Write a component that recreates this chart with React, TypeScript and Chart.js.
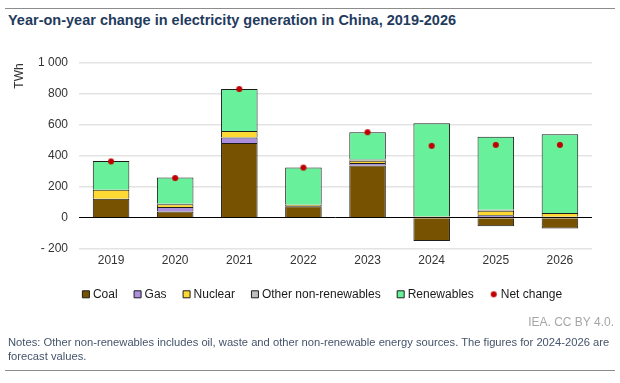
import React, { useEffect, useRef } from "react";
import { Chart, registerables } from "chart.js";

Chart.register(...registerables);

const categories = ["2019", "2020", "2021", "2022", "2023", "2024", "2025", "2026"];
const coal = [122, 40, 481, 73, 335, -150, -55, -70];
const gas = [0, 28, 35, 0, 17, 0, 15, 5];
const nuclear = [58, 18, 41, 10, 14, 8, 30, 25];
const otherNonRenewables = [0, 4, 0, 0, 8, 0, 5, 0];
const renewables = [185, 168, 271, 239, 176, 600, 470, 507];
const netChange = [362, 255, 828, 322, 550, 462, 468, 468];
const yTicks = [-200, 0, 200, 400, 600, 800, 1000];

const FONT = "'Liberation Sans', Arial, sans-serif";

const nz = (arr: number[]) => arr.map((v) => (v === 0 ? null : v));

function makeDot(): HTMLCanvasElement {
  const c = document.createElement("canvas");
  c.width = 8;
  c.height = 8;
  const g = c.getContext("2d")!;
  g.beginPath();
  g.arc(4, 4, 3, 0, Math.PI * 2);
  g.fillStyle = "#c00000";
  g.fill();
  return c;
}

export default function App() {
  const ref = useRef<HTMLCanvasElement | null>(null);

  useEffect(() => {
    if (!ref.current) return;
    const dot = makeDot();
    const barCommon = {
      type: "bar" as const,
      stack: "gen",
      borderColor: "#1c1c1c",
      borderWidth: 1,
      barPercentage: 0.57,
      categoryPercentage: 1,
      pointStyle: "rect",
      order: 1,
    };
    const twhPlugin = {
      id: "twh",
      afterDraw(chart: any) {
        const ctx = chart.ctx;
        ctx.save();
        ctx.translate(20, chart.chartArea.top + 1);
        ctx.rotate(-Math.PI / 2);
        ctx.font = `12px ${FONT}`;
        ctx.fillStyle = "#333333";
        ctx.textAlign = "right";
        ctx.textBaseline = "middle";
        ctx.fillText("TWh", 0, 0);
        ctx.restore();
      },
    };
    const chart = new Chart(ref.current, {
      type: "bar",
      data: {
        labels: categories,
        datasets: [
          { ...barCommon, label: "Coal", data: nz(coal), backgroundColor: "#775200" },
          { ...barCommon, label: "Gas", data: nz(gas), backgroundColor: "#ad8fdf" },
          { ...barCommon, label: "Nuclear", data: nz(nuclear), backgroundColor: "#ffd933" },
          { ...barCommon, label: "Other non-renewables", data: nz(otherNonRenewables), backgroundColor: "#bfbfbf" },
          { ...barCommon, label: "Renewables", data: nz(renewables), backgroundColor: "#68f09b" },
          {
            type: "line" as const,
            label: "Net change",
            data: netChange,
            stack: "net",
            showLine: false,
            pointRadius: 3.5,
            pointHoverRadius: 3.5,
            pointBackgroundColor: "#c00000",
            pointBorderColor: "#7a0000",
            pointBorderWidth: 1,
            backgroundColor: "#c00000",
            borderColor: "#7a0000",
            pointStyle: dot as any,
            order: 0,
          } as any,
        ],
      },
      options: {
        responsive: false,
        animation: false,
        layout: { padding: { top: 62.3, left: 27, right: 0, bottom: 72.7 } },
        plugins: {
          title: { display: false },
          tooltip: { enabled: false },
          legend: {
            position: "bottom",
            labels: {
              usePointStyle: true,
              boxWidth: 2,
              boxHeight: 7,
              padding: 19,
              color: "#1a1a1a",
              font: { family: FONT, size: 12 },
              sort: (a: any, b: any) => a.datasetIndex - b.datasetIndex,
            },
          },
        },
        scales: {
          x: {
            stacked: true,
            grid: { display: false, drawTicks: false },
            border: { display: false },
            ticks: { padding: 4.5, color: "#333333", font: { family: FONT, size: 12 } },
            afterFit: (s: any) => {
              s.height = 20.6;
            },
          },
          y: {
            stacked: true,
            min: -200,
            max: 1000,
            afterBuildTicks: (s: any) => {
              s.ticks = yTicks.map((v) => ({ value: v }));
            },
            afterFit: (s: any) => {
              s.width = 52;
            },
            grid: {
              drawTicks: false,
              color: (c: any) => (c.tick && c.tick.value === 0 ? "#000000" : "#e3e3e3"),
              lineWidth: (c: any) => (c.tick && c.tick.value === 0 ? 1 : 1.5),
            },
            border: { display: false },
            ticks: {
              padding: 11,
              color: "#333333",
              font: { family: FONT, size: 12 },
              callback: (v: any) => {
                const n = Number(v);
                if (n === 1000) return "1 000";
                if (n < 0) return "- " + Math.abs(n);
                return String(n);
              },
            },
          },
          yRight: {
            position: "right",
            display: true,
            grid: { display: false, drawTicks: false },
            border: { display: false },
            ticks: { display: false },
            afterFit: (s: any) => {
              s.width = 28;
            },
          },
        },
      } as any,
      plugins: [twhPlugin],
    });
    return () => chart.destroy();
  }, []);

  return (
    <div style={{ position: "absolute", left: 0, top: 0, width: 620, height: 383, background: "#fff", fontFamily: FONT }}>
      <div style={{ position: "absolute", left: 5, top: 7.5, width: 610, height: 1.5, background: "#8c8c8c" }} />
      <div
        style={{
          position: "absolute",
          left: 8,
          top: 12,
          fontSize: 14.5,
          lineHeight: "17px",
          fontWeight: "bold",
          color: "#1f3b5e",
          whiteSpace: "nowrap",
        }}
      >
        Year-on-year change in electricity generation in China, 2019-2026
      </div>
      <canvas ref={ref} width={620} height={383} style={{ position: "absolute", left: 0, top: 0 }} />
      <div
        style={{
          position: "absolute",
          right: 6,
          top: 314.5,
          fontSize: 12,
          lineHeight: "14px",
          color: "#a6a6a6",
          whiteSpace: "nowrap",
        }}
      >
        IEA. CC BY 4.0.
      </div>
      <div
        style={{
          position: "absolute",
          left: 8,
          top: 335,
          fontSize: 11.2,
          lineHeight: "14.4px",
          color: "#44546a",
          whiteSpace: "nowrap",
        }}
      >
        Notes: Other non-renewables includes oil, waste and other non-renewable energy sources. The figures for 2024-2026 are
        <br />
        forecast values.
      </div>
      <div style={{ position: "absolute", left: 5, top: 369.5, width: 610, height: 1.5, background: "#8c8c8c" }} />
    </div>
  );
}
